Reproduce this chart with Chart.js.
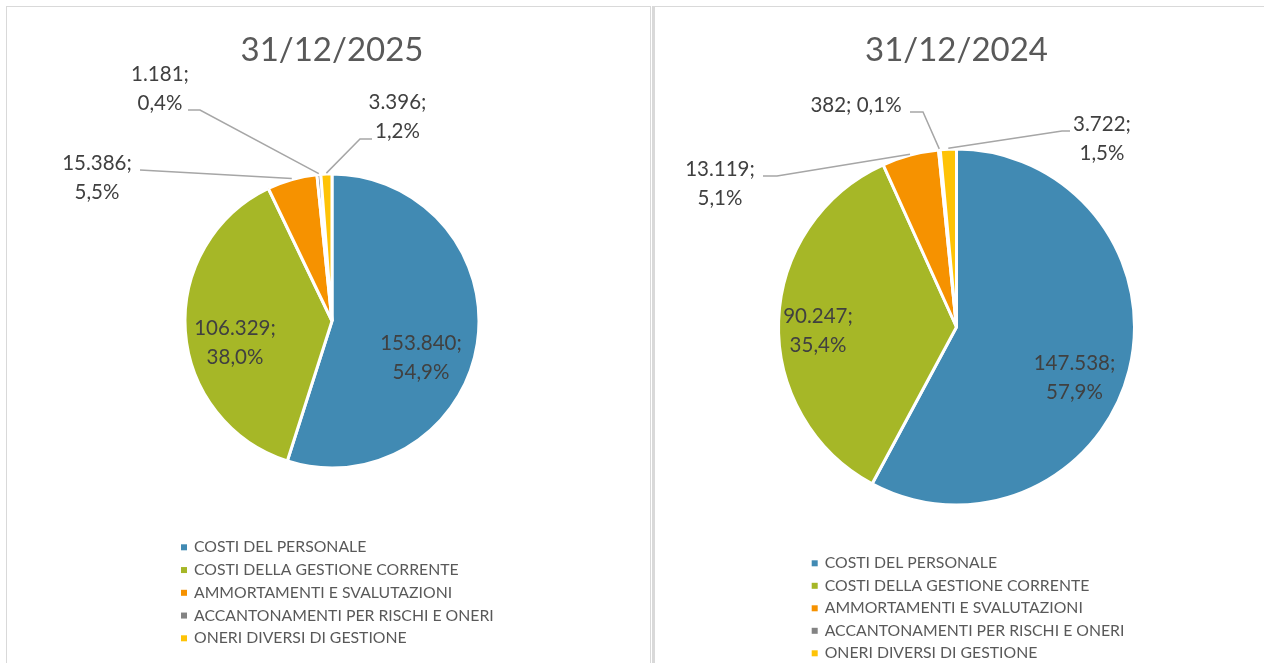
<!DOCTYPE html>
<html>
<head>
<meta http-equiv="Content-Type" content="text/html;charset=utf-8" />
<script src="https://cdn.jsdelivr.net/npm/chart.js@4.4.1/dist/chart.umd.min.js"></script>
<style>
  body { margin: 0; background: #fff; }
  .box { position: absolute; top: 6px; height: 700px; }
  #boxSx { left: 6px; width: 643px; border: 1px solid #d9d9d9; }
  #boxDx { left: 652px; width: 620px; border-top: 1px solid #d9d9d9; border-left: 3px solid #d9d9d9; }
</style>
</head>
<body>
<div class="box" id="boxSx"><canvas id="torta2025" width="643" height="656"></canvas></div>
<div class="box" id="boxDx"><canvas id="torta2024" width="609" height="656"></canvas></div>

<script type="text/javascript">
// voci di costo (legenda)
var categorie = ['COSTI DEL PERSONALE', 'COSTI DELLA GESTIONE CORRENTE', 'AMMORTAMENTI E SVALUTAZIONI',
                 'ACCANTONAMENTI PER RISCHI E ONERI', 'ONERI DIVERSI DI GESTIONE'];
var valori2025 = [153840, 106329, 15386, 1181, 3396];
var valori2024 = [147538, 90247, 13119, 382, 3722];
var titoli = ['31/12/2025', '31/12/2024'];
var colori = ['#418AB3', '#A6B727', '#F69200', '#838383', '#FEC306'];

// 153840 -> "153.840"
function migliaia(n) {
  return String(n).replace(/\B(?=(\d{3})+(?!\d))/g, '.');
}
// 0.549 -> "54,9%"
function percento(f) {
  return (f * 100).toFixed(1).replace('.', ',') + '%';
}

// etichette dei dati: posizione rispetto al centro della torta, con eventuale linea guida
var etichette = {
  id: 'etichette',
  afterDatasetsDraw: function(chart, args, opts) {
    var ctx = chart.ctx;
    var meta = chart.getDatasetMeta(0);
    var dati = chart.data.datasets[0].data;
    var tot = dati.reduce(function(a, b) { return a + b; }, 0);
    ctx.save();
    ctx.font = '20.5px Lato';
    ctx.textAlign = 'center';
    ctx.textBaseline = 'middle';
    meta.data.forEach(function(arc, i) {
      var p = opts.pos[i];
      var a = arc.getProps(['x', 'y', 'startAngle', 'endAngle', 'outerRadius'], true);
      if (p.linea) {
        var mid = (a.startAngle + a.endAngle) / 2;
        var ex = a.x + Math.cos(mid) * (a.outerRadius + 1);
        var ey = a.y + Math.sin(mid) * (a.outerRadius + 1);
        ctx.strokeStyle = '#A6A6A6';
        ctx.lineWidth = 1.5;
        ctx.beginPath();
        ctx.moveTo(a.x + p.linea[0][0], a.y + p.linea[0][1]);
        ctx.lineTo(a.x + p.linea[1][0], a.y + p.linea[1][1]);
        ctx.lineTo(ex, ey);
        ctx.stroke();
      }
      var t1 = migliaia(dati[i]) + ';';
      var t2 = percento(dati[i] / tot);
      var lx = a.x + p.at[0], ly = a.y + p.at[1];
      ctx.fillStyle = '#404040';
      if (p.riga) {
        ctx.fillText(t1 + ' ' + t2, lx, ly);
      } else {
        ctx.fillText(t1, lx, ly - 14.5);
        ctx.fillText(t2, lx, ly + 14.5);
      }
    });
    ctx.restore();
  }
};

// legenda verticale sotto la torta
var legenda = {
  id: 'legenda',
  afterDraw: function(chart, args, opts) {
    var ctx = chart.ctx;
    ctx.save();
    ctx.font = '15.8px Lato';
    ctx.textBaseline = 'middle';
    ctx.textAlign = 'left';
    chart.data.labels.forEach(function(lab, i) {
      var y = opts.y + i * opts.passo;
      ctx.fillStyle = chart.data.datasets[0].backgroundColor[i];
      ctx.fillRect(opts.x, y - 3, 6, 6);
      ctx.fillStyle = '#595959';
      ctx.fillText(lab, opts.x + 13, y);
    });
    ctx.restore();
  }
};

function creaTorta(id, titolo, valori, padTitolo, padding, pos, leg) {
  var ctx = document.getElementById(id).getContext('2d');
  return new Chart(ctx, {
    type: 'pie',
    data: {
      labels: categorie,
      datasets: [{
        data: valori,
        backgroundColor: colori,
        borderColor: '#ffffff',
        borderWidth: 3
      }]
    },
    options: {
      responsive: false,
      animation: false,
      layout: { padding: padding },
      plugins: {
        legend: { display: false },
        tooltip: { enabled: false },
        title: {
          display: true,
          text: titolo,
          color: '#595959',
          font: { family: 'Lato', size: 33, weight: 'normal' },
          padding: padTitolo
        },
        etichette: { pos: pos },
        legenda: leg
      }
    },
    plugins: [etichette, legenda]
  });
}

creaTorta('torta2025', titoli[0], valori2025,
  { top: 24, bottom: 101.9 },
  { left: 100, right: 93, top: 0, bottom: 193.5 },
  [
    { at: [89, 37] },
    { at: [-97, 21.5] },
    { at: [-235, -143.5], linea: [[-192, -151], [-192, -151]] },
    { at: [-172, -232.5], linea: [[-144, -211], [-132, -211]] },
    { at: [65.5, -204.5], linea: [[40, -182], [28, -182]] }
  ],
  { x: 174, y: 540.3, passo: 22.75 });

creaTorta('torta2024', titoli[1], valori2024,
  { top: 24, bottom: 76.9 },
  { left: 100, right: 106, top: 0, bottom: 156.5 },
  [
    { at: [118, 51.3] },
    { at: [-138.5, 3.5] },
    { at: [-236.5, -143], linea: [[-193.5, -151], [-179.5, -151]] },
    { at: [-100.5, -222], linea: [[-46.5, -215], [-33.5, -215]], riga: true },
    { at: [145.5, -188], linea: [[113.5, -196], [105.5, -196]] }
  ],
  { x: 156.7, y: 556.3, passo: 22.5 });
</script>
</body>
</html>
